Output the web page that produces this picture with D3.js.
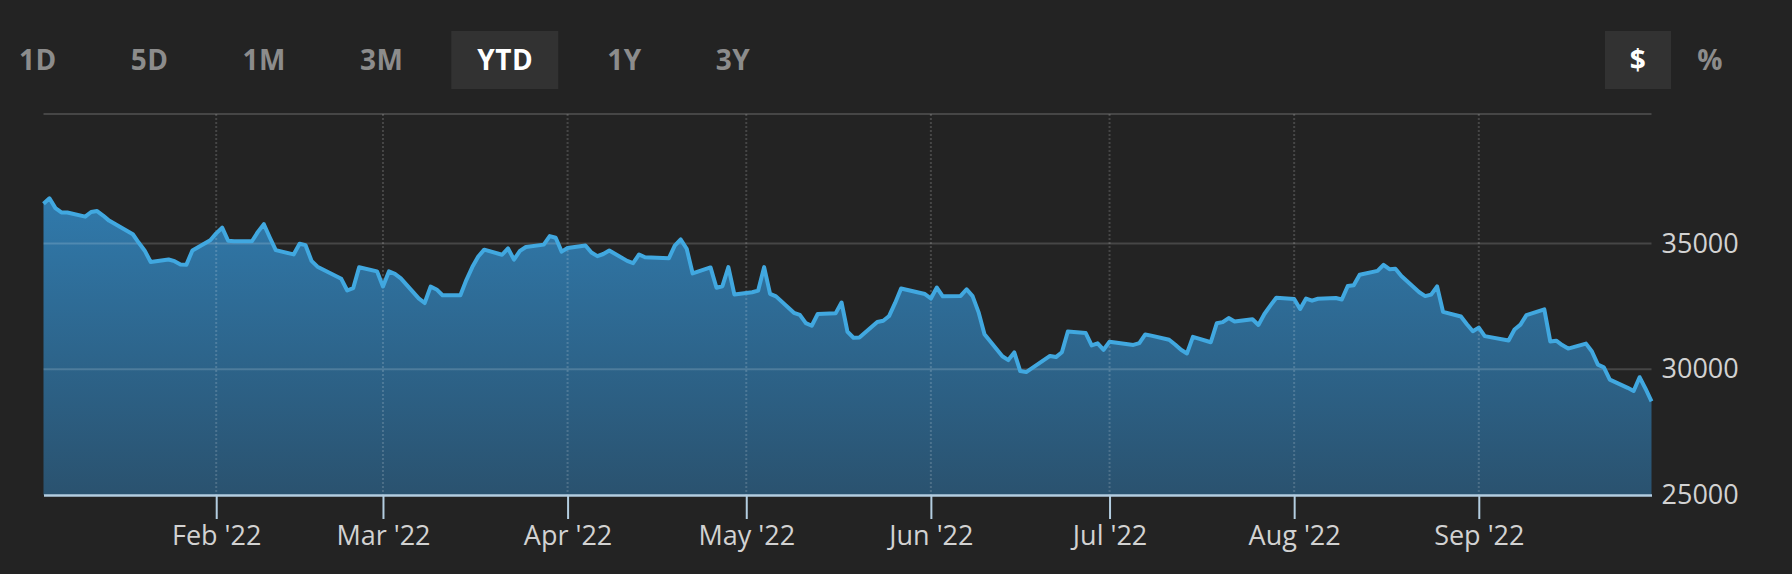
<!DOCTYPE html>
<html>
<head>
<meta charset="utf-8">
<script src="https://cdn.jsdelivr.net/npm/d3@7"></script>
<style>
html, body { margin: 0; padding: 0; background: #232323; }
svg { display: block; }
text { font-family: "Open Sans", "Noto Sans", sans-serif; }
</style>
</head>
<body>
<div id="chart"></div>
<script>

var width = 1792,
    height = 574;

// range buttons
var ranges = ["1D", "5D", "1M", "3M", "YTD", "1Y", "3Y"];
var activeRange = "YTD";
var units = ["$", "%"];
var activeUnit = "$";

var yTicks = [25000, 30000, 35000];

// daily closes 2022, one row per month (MM-DD)
var dates = [
  "01-03","01-04","01-05","01-06","01-07","01-10","01-11","01-12","01-13","01-14","01-18","01-19","01-20","01-21","01-24","01-25","01-26","01-27","01-28","01-31",
  "02-01","02-02","02-03","02-04","02-07","02-08","02-09","02-10","02-11","02-14","02-15","02-16","02-17","02-18","02-22","02-23","02-24","02-25","02-28",
  "03-01","03-02","03-03","03-04","03-07","03-08","03-09","03-10","03-11","03-14","03-15","03-16","03-17","03-18","03-21","03-22","03-23","03-24","03-25","03-28","03-29","03-30","03-31",
  "04-01","04-04","04-05","04-06","04-07","04-08","04-11","04-12","04-13","04-14","04-18","04-19","04-20","04-21","04-22","04-25","04-26","04-27","04-28","04-29",
  "05-02","05-03","05-04","05-05","05-06","05-09","05-10","05-11","05-12","05-13","05-16","05-17","05-18","05-19","05-20","05-23","05-24","05-25","05-26","05-27","05-31",
  "06-01","06-02","06-03","06-06","06-07","06-08","06-09","06-10","06-13","06-14","06-15","06-16","06-17","06-21","06-22","06-23","06-24","06-27","06-28","06-29","06-30",
  "07-01","07-05","07-06","07-07","07-08","07-11","07-12","07-13","07-14","07-15","07-18","07-19","07-20","07-21","07-22","07-25","07-26","07-27","07-28","07-29",
  "08-01","08-02","08-03","08-04","08-05","08-08","08-09","08-10","08-11","08-12","08-15","08-16","08-17","08-18","08-19","08-22","08-23","08-24","08-25","08-26","08-29","08-30","08-31",
  "09-01","09-02","09-06","09-07","09-08","09-09","09-12","09-13","09-14","09-15","09-16","09-19","09-20","09-21","09-22","09-23","09-26","09-27","09-28","09-29","09-30"
];

var closes = [
  36585,36799,36407,36236,36231,36068,36252,36290,36113,35911,35368,35029,34715,34265,34364,34297,34168,34160,34725,35131,
  35405,35629,35111,35089,35091,35463,35768,35241,34738,34566,34989,34934,34312,34079,33597,33132,33224,34059,33893,
  33294,33891,33795,33615,32818,32633,33286,33174,32944,32945,33545,34063,34481,34755,34553,34808,34359,34707,34862,34956,35294,35229,34678,
  34818,34922,34641,34497,34583,34721,34309,34221,34565,34451,34412,34912,35161,34793,33811,34049,33240,33302,34060,32977,
  33061,33128,34061,32998,32899,32246,32161,31834,31730,32197,32223,32655,31490,31253,31262,31880,31929,32120,32637,33213,32990,
  32813,33248,32900,32916,33180,32910,32273,31393,30517,30365,30669,29927,29889,30530,30484,30677,31501,31439,30947,31030,30775,
  31097,30968,31037,31385,31338,31174,30982,30773,30630,31289,31073,31828,31875,32037,31900,31990,31762,32198,32529,32845,
  32798,32397,32813,32727,32803,32833,32775,33310,33337,33761,33913,34152,33981,33999,33707,33064,32910,32970,33292,32283,32099,31791,31510,
  31656,31318,31146,31581,31775,32152,32381,31105,31135,30962,30822,31020,30706,30184,30077,29590,29261,29135,29684,29226,28726
];

var parseDate = d3.timeParse("%Y-%m-%d");
var data = dates.map(function(d, i) {
  return {date: parseDate("2022-" + d), close: closes[i]};
});

var plot = {left: 43.5, right: 1651.5, top: 114, bottom: 495};

var svg = d3.select("#chart").append("svg")
    .attr("width", width)
    .attr("height", height);

svg.append("rect")
    .attr("width", width)
    .attr("height", height)
    .attr("fill", "#232323");

// ---- buttons ----
var btnY = 60;
var bg = svg.append("g");
var btns = svg.append("g")
    .style("font-size", "28px")
    .style("font-weight", 700)
    .style("letter-spacing", "0.5px");

var bx = 19;
ranges.forEach(function(r) {
  var t = btns.append("text")
      .attr("x", bx)
      .attr("y", btnY)
      .attr("dy", "0.35em")
      .attr("fill", r === activeRange ? "#ffffff" : "#8c8c8c")
      .text(r);
  var w = t.node().getComputedTextLength();
  if (r === activeRange) {
    bg.append("rect")
        .attr("x", bx - 26)
        .attr("y", 31)
        .attr("width", w + 51)
        .attr("height", 58)
        .attr("fill", "#323232");
  }
  bx += w + 74;
});

var unitX = d3.scalePoint().domain(units).range([1638, 1710]);
units.forEach(function(u) {
  if (u === activeUnit) {
    bg.append("rect")
        .attr("x", unitX(u) - 33)
        .attr("y", 31)
        .attr("width", 66)
        .attr("height", 58)
        .attr("fill", "#323232");
  }
  btns.append("text")
      .attr("x", unitX(u))
      .attr("y", btnY)
      .attr("dy", "0.35em")
      .attr("text-anchor", "middle")
      .attr("fill", u === activeUnit ? "#ffffff" : "#8c8c8c")
      .text(u);
});

// ---- scales ----
var x = d3.scaleTime()
    .domain([parseDate("2022-01-03"), parseDate("2022-09-30")])
    .range([plot.left, plot.right]);

var y = d3.scaleLinear()
    .domain([25000, 40150])
    .range([plot.bottom, plot.top]);

var monthTicks = d3.timeMonth.range(parseDate("2022-02-01"), parseDate("2022-10-01"));

var defs = svg.append("defs");
var grad = defs.append("linearGradient")
    .attr("id", "areaGrad")
    .attr("gradientUnits", "userSpaceOnUse")
    .attr("x1", 0).attr("x2", 0)
    .attr("y1", plot.top).attr("y2", plot.bottom);
grad.append("stop").attr("offset", "0%").attr("stop-color", "#3285bd");
grad.append("stop").attr("offset", "100%").attr("stop-color", "#2a526f");

var area = d3.area()
    .x(function(d) { return x(d.date); })
    .y0(plot.bottom)
    .y1(function(d) { return y(d.close); });

var line = d3.line()
    .x(function(d) { return x(d.date); })
    .y(function(d) { return y(d.close); });

svg.append("path")
    .datum(data)
    .attr("d", area)
    .attr("fill", "url(#areaGrad)");

// grid on top of the area, semi transparent
var grid = svg.append("g");
grid.selectAll("line.h")
    .data(yTicks.filter(function(d) { return d > 25000; }).concat([y.domain()[1]]))
    .enter().append("line")
    .attr("class", "h")
    .attr("x1", plot.left)
    .attr("x2", plot.right)
    .attr("y1", function(d) { return y(d); })
    .attr("y2", function(d) { return y(d); })
    .attr("stroke", "rgba(255,255,255,0.16)")
    .attr("stroke-width", 2);

grid.selectAll("line.v")
    .data(monthTicks)
    .enter().append("line")
    .attr("class", "v")
    .attr("x1", function(d) { return x(d); })
    .attr("x2", function(d) { return x(d); })
    .attr("y1", plot.top)
    .attr("y2", plot.bottom)
    .attr("stroke", "rgba(255,255,255,0.16)")
    .attr("stroke-width", 2)
    .attr("stroke-dasharray", "2,2");

svg.append("path")
    .datum(data)
    .attr("d", line)
    .attr("fill", "none")
    .attr("stroke", "#41a8e0")
    .attr("stroke-width", 4)
    .attr("stroke-linejoin", "round");

// x axis
var xAxis = svg.append("g")
    .attr("transform", "translate(0," + plot.bottom + ")")
    .call(d3.axisBottom(x)
      .tickValues(monthTicks)
      .tickFormat(d3.timeFormat("%b '%y"))
      .tickSize(24)
      .tickSizeOuter(0)
      .tickPadding(7));

xAxis.select(".domain")
    .attr("stroke", "#b3cde0")
    .attr("stroke-width", 2.5);
xAxis.selectAll(".tick line")
    .attr("stroke", "#b3cde0")
    .attr("stroke-width", 2);
xAxis.selectAll(".tick text")
    .attr("fill", "#d2d2d2")
    .style("font-size", "27px");

// y axis on the right
var yAxis = svg.append("g")
    .attr("transform", "translate(" + plot.right + ",0)")
    .call(d3.axisRight(y)
      .tickValues(yTicks)
      .tickFormat(d3.format("d"))
      .tickSize(0)
      .tickPadding(10));

yAxis.select(".domain").remove();
yAxis.selectAll(".tick text")
    .attr("fill", "#d2d2d2")
    .style("font-size", "27px");

</script>
</body>
</html>
